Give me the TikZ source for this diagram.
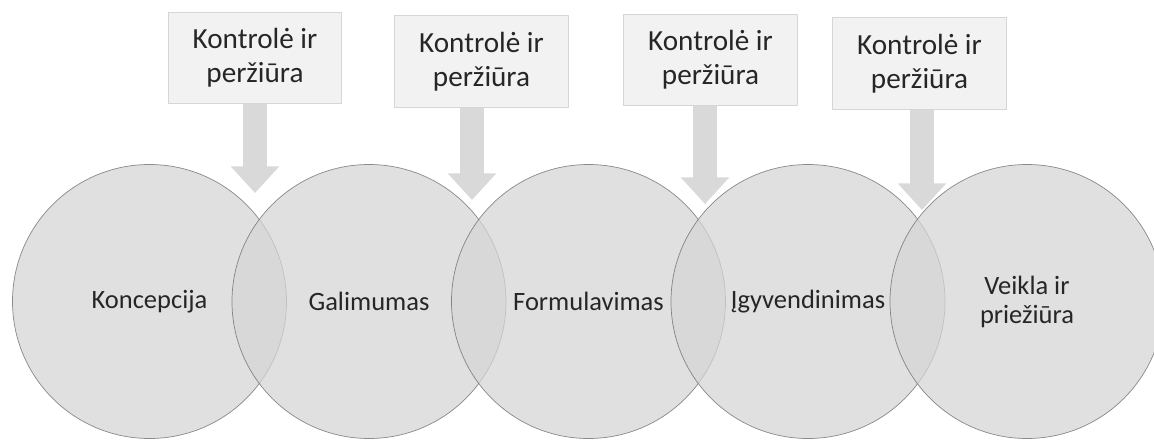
\documentclass[tikz,border=0pt]{standalone}
\usepackage{fontspec}
\setmainfont{Carlito}
\usepackage[dvipsnames]{xcolor}
\usepackage{tikz}
\usetikzlibrary{arrows.meta}
\usetikzlibrary{positioning}
\definecolor{circfill}{RGB}{213,213,213}
\definecolor{boxfill}{RGB}{242,242,242}
\definecolor{boxline}{RGB}{214,214,214}
\definecolor{arrowfill}{RGB}{217,217,217}
\definecolor{textgray}{RGB}{38,38,38}

\begin{document}
\begin{tikzpicture}[line cap=round,line join=round,x=0.03cm,y=0.03cm,
  phase/.style={circle,minimum size=8.22cm,inner sep=0pt,fill=circfill,draw=black!60,line width=0.6pt,
    fill opacity=0.74,draw opacity=0.74,text opacity=1,text=textgray,align=center,
    font=\fontsize{22.6}{24.75}\selectfont},
  review/.style={rectangle,minimum width=5.2cm,minimum height=2.75cm,fill=boxfill,draw=boxline,
    line width=0.8pt,text=textgray,align=center,font=\fontsize{24.9}{29}\selectfont},
  feed/.style={draw=arrowfill,line width=0.72cm,line cap=butt,
    -{Triangle[width=1.41cm,length=0.8cm]}}]
\useasboundingbox (0,0) rectangle (1154,439);
% phases
\node[phase] (c1) at (149.5,137.5) {Koncepcija};
\node[phase] (c2) at (369,137.5) {Galimumas};
\node[phase] (c3) at (588.5,137.5) {Formulavimas};
\node[phase] (c4) at (808,137.5) {Įgyvendinimas};
\node[phase] (c5) at (1027,137.5) {Veikla ir\\priežiūra};
% control boxes
\node[review] (k1) at (255,381) {Kontrolė ir\\peržiūra};
\node[review] (k2) at (481.5,377.5) {Kontrolė ir\\peržiūra};
\node[review] (k3) at (710.5,379) {Kontrolė ir\\peržiūra};
\node[review] (k4) at (919.5,375.5) {Kontrolė ir\\peržiūra};
\coordinate (t1) at (255,246);
\coordinate (t2) at (472,239);
\coordinate (t3) at (705,235);
\coordinate (t4) at (922,229);
\draw[feed] (k1.south -| t1) -- (t1);
\draw[feed] (k2.south -| t2) -- (t2);
\draw[feed] (k3.south -| t3) -- (t3);
\draw[feed] (k4.south -| t4) -- (t4);
\end{tikzpicture}
\end{document}
